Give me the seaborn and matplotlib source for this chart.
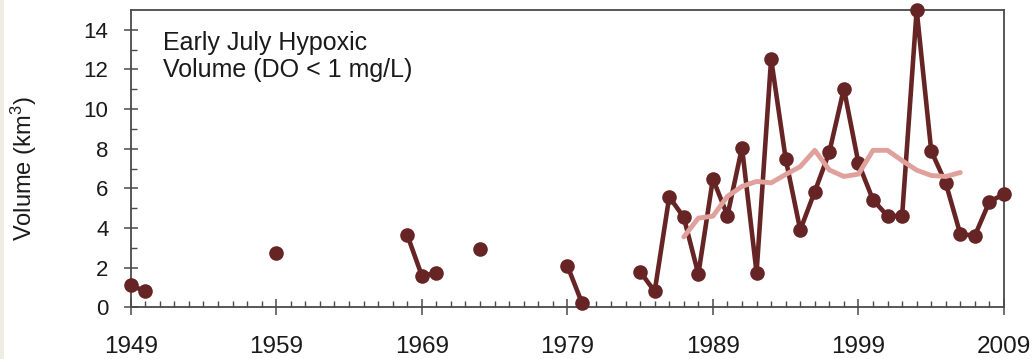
import numpy as np
import pandas as pd
import matplotlib
matplotlib.use("Agg")
import matplotlib.pyplot as plt
from matplotlib.patches import Rectangle
import seaborn as sns

# Observed early-July hypoxic volume (km^3), by survey year
years = [1949, 1950, 1959, 1968, 1969, 1970, 1973, 1979, 1980,
         1984, 1985, 1986, 1987, 1988, 1989, 1990, 1991, 1992, 1993,
         1994, 1995, 1996, 1997, 1998, 1999, 2000, 2001, 2002, 2003,
         2004, 2005, 2006, 2007, 2008, 2009]
volumes = [1.10, 0.82, 2.73, 3.65, 1.60, 1.72, 2.96, 2.10, 0.23,
           1.80, 0.80, 5.57, 4.54, 1.67, 6.48, 4.63, 8.06, 1.75, 12.54,
           7.49, 3.90, 5.84, 7.83, 11.03, 7.27, 5.42, 4.61, 4.61, 15.00,
           7.89, 6.26, 3.69, 3.62, 5.33, 5.71]

# Smoothed trend line
trend_years = list(range(1987, 2007))
trend_values = [3.55, 4.50, 4.60, 5.60, 6.10, 6.35, 6.28, 6.70, 7.10, 7.92,
                6.93, 6.60, 6.72, 7.92, 7.92, 7.40, 6.92, 6.65, 6.60, 6.80]

x_ticks = [1949, 1959, 1969, 1979, 1989, 1999, 2009]
y_ticks = [0, 2, 4, 6, 8, 10, 12, 14]

DARK = "#672424"
PINK = "#e0a19d"
FRAME = "#4a4a4a"
TEXT = "#1a1a1a"

sns.set_theme(style="white")
plt.rcParams["font.family"] = ["Liberation Sans", "DejaVu Sans"]
plt.rcParams["mathtext.default"] = "regular"

obs = pd.DataFrame({"year": years, "volume": volumes})
# consecutive survey years form one connected run
obs["run"] = (obs["year"].diff() != 1).cumsum()
trend = pd.DataFrame({"year": trend_years, "volume": trend_values})

fig = plt.figure(figsize=(10.35, 3.59), dpi=100)
fig.patch.set_facecolor("white")
fig.patches.append(Rectangle((0, 0), 4 / 1035, 1, transform=fig.transFigure,
                             facecolor="#efece4", edgecolor="none", zorder=0))
ax = fig.add_axes([130.7 / 1035, 1 - 307.3 / 359, 873.3 / 1035, 297.3 / 359])

sns.lineplot(data=obs, x="year", y="volume", units="run", estimator=None,
             color=DARK, linewidth=3.3, marker="o", markersize=10.5,
             markeredgewidth=0, clip_on=False, legend=False, ax=ax, zorder=3)
sns.lineplot(data=trend, x="year", y="volume", estimator=None,
             color=PINK, linewidth=3.5, legend=False, ax=ax, zorder=4)

ax.set_xlim(1949, 2009)
ax.set_ylim(0, 15)
ax.set_xticks(x_ticks)
ax.set_xticks(range(1949, 2010), minor=True)
ax.set_yticks(y_ticks)
ax.set_yticks(range(1, 15, 2), minor=True)
ax.set_xticklabels([str(t) for t in x_ticks])
ax.set_yticklabels([str(t) for t in y_ticks])

ax.tick_params(axis="x", which="major", direction="inout", length=11.5,
               width=1.1, color=FRAME, pad=15, bottom=True,
               labelsize=17.5, labelcolor=TEXT)
ax.tick_params(axis="y", which="major", direction="inout", length=10,
               width=1.1, color=FRAME, pad=11, left=True,
               labelsize=16, labelcolor=TEXT)
ax.tick_params(axis="both", which="minor", direction="in", length=4,
               width=1.0, color=FRAME, bottom=True, left=True)

for side in ["left", "right", "top", "bottom"]:
    ax.spines[side].set_visible(True)
    ax.spines[side].set_color(FRAME)
    ax.spines[side].set_linewidth(1.3)

ax.set_xlabel("")
ax.set_ylabel("Volume (km$^3$)", fontsize=17, color=TEXT, va="center")
ax.yaxis.set_label_coords(-0.122, 0.465)

ax.text(0.037, 0.93, "Early July Hypoxic\nVolume (DO < 1 mg/L)",
        transform=ax.transAxes, ha="left", va="top", fontsize=18,
        linespacing=1.15, color=TEXT)

fig.savefig("out.png", dpi=100, facecolor=fig.get_facecolor())
